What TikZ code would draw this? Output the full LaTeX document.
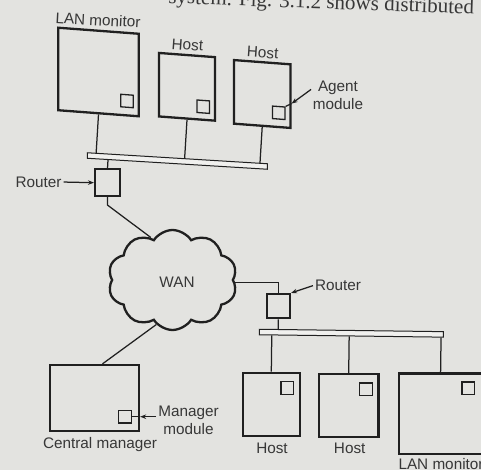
\documentclass[tikz,border=0pt]{standalone}
\usepackage{fontspec}
\setmainfont{Liberation Sans}
\newfontfamily\bookfont{Liberation Serif}
\usetikzlibrary{shapes.symbols,calc,arrows.meta}
\definecolor{bg}{RGB}{227,227,224}
\definecolor{ink}{RGB}{32,32,32}
\definecolor{txt}{RGB}{55,55,55}
\definecolor{busfill}{RGB}{240,240,238}
\begin{document}
\begin{tikzpicture}[x=1pt,y=-1pt,
  box/.style={draw=ink,line width=2.3pt,rectangle,inner sep=0pt},
  sq/.style={draw=ink,line width=1.3pt,rectangle,inner sep=0pt,minimum size=12.5pt},
  rtr/.style={draw=ink,line width=2pt,rectangle,inner sep=0pt},
  busbar/.style={draw=ink,fill=busfill,line width=1pt,rectangle,inner sep=0pt},
  skew/.style={yslant=-0.075,transform shape},
  link/.style={draw=ink,line width=1.25pt},
  ptr/.style={link,-{Stealth[length=6pt,width=4.5pt]},shorten <=2pt},
  lbl/.style={text=txt,font=\fontsize{15.3}{18}\selectfont,inner sep=0pt,align=center}]
\useasboundingbox (0,0) rectangle (481,470);
\fill[bg] (0,0) rectangle (481,470);

% top caption fragment from the page
\node[font=\bookfont\fontsize{21}{24}\selectfont,text=txt,anchor=base east,rotate=-2,inner sep=0pt] (cap) at (474,14) {system. Fig. 3.1.2 shows distributed};

% ---- upper LAN ----
\node[box,skew,minimum width=80.5pt,minimum height=82.5pt] (lm1) at (98.5,72) {};
\node[sq,skew] (lm1s) at (127,101) {};
\node[box,skew,minimum width=56pt,minimum height=63.5pt] (h1) at (187,86.8) {};
\node[sq,skew] (h1s) at (203.3,106.7) {};
\node[box,skew,minimum width=56.5pt,minimum height=63.6pt] (h2) at (262.2,94) {};
\node[sq,skew] (h2s) at (278.7,112.8) {};

\node[lbl,rotate=-3] (lm1l) at (98,20) {LAN monitor};
\node[lbl,rotate=-4] (h1l) at (187.5,45) {Host};
\node[lbl,rotate=-4] (h2l) at (262.7,52.7) {Host};
\node[lbl] (aml) at (338,95) {Agent\\module};
\coordinate (agtip) at ($(h2.east)+(0,7.4)$);
\draw[ptr] (aml.165) -- (agtip);
\draw[link] (agtip) -- (h2s.north east);

\node[busbar,yslant=-0.061,transform shape,minimum width=180pt,minimum height=5.5pt] (bus1) at (177.3,161) {};
\draw[link] (lm1.south) -- ($(bus1.north west)!(lm1.south)!(bus1.north east)$);
\draw[link] (h1.south) -- ($(bus1.north west)!(h1.south)!(bus1.north east)$);
\draw[link] (h2.south) -- ($(bus1.north west)!(h2.south)!(bus1.north east)$);

\node[rtr,minimum width=25pt,minimum height=26.7pt] (r1) at (107.5,182.7) {};
\draw[link] ($(bus1.south west)!(r1.north)!(bus1.south east)$) -- (r1.north);
\node[lbl] (r1l) at (38.5,182) {Router};
\draw[ptr] (r1l.east) -- (r1.west);

% ---- WAN ----
\node[cloud,draw=ink,line width=2.3pt,cloud puffs=10,cloud puff arc=115,aspect=1.3,
      minimum width=129pt,minimum height=100pt,inner sep=0pt] (wan) at (172.5,280) {};
\node[lbl] (wanl) at (177,282) {WAN};
\draw[link] (r1.south) -- ++(0,8) -- (wan.117);

% ---- lower LAN ----
\node[rtr,minimum width=23.5pt,minimum height=24.5pt] (r2) at (278.3,306.2) {};
\draw[link] (wan.-2) -| (r2.north);
\node[lbl] (r2l) at (338,285) {Router};
\draw[ptr] (r2l.west) -- (r2.north east);

\node[busbar,yslant=-0.013,transform shape,minimum width=184pt,minimum height=5.5pt] (bus2) at (351.3,333.2) {};
\draw[link] (r2.south) -- ($(bus2.north west)!(r2.south)!(bus2.north east)$);

\node[box,minimum width=57.3pt,minimum height=63.3pt] (ha) at (271.3,404.4) {};
\node[sq] (has) at (287.2,388) {};
\node[box,minimum width=59.3pt,minimum height=62.7pt] (hb) at (348.7,405.4) {};
\node[sq] (hbs) at (366,389.2) {};
\node[box,minimum width=82.7pt,minimum height=80.7pt] (lm2) at (440.6,413.7) {};
\node[sq] (lm2s) at (468.3,388.3) {};
\draw[link] ($(bus2.south west)!(ha.north)!(bus2.south east)$) -- (ha.north);
\draw[link] ($(bus2.south west)!(hb.north)!(bus2.south east)$) -- (hb.north);
\draw[link] ($(bus2.south west)!(lm2.north)!(bus2.south east)$) -- (lm2.north);
\node[lbl] (hal) at (272,448.3) {Host};
\node[lbl] (hbl) at (349.7,448) {Host};
\node[lbl,anchor=west] (lm2l) at (398.3,464) {LAN monitor};

% ---- central manager ----
\node[box,minimum width=89pt,minimum height=66pt] (cm) at (94.5,398) {};
\node[sq] (cms) at (125,416.7) {};
\node[lbl] (cml) at (100,445) {Central manager};
\node[lbl] (mml) at (188.5,420.5) {Manager\\module};
\coordinate (cme) at (cm.east |- cms.east);
\draw[ptr] (mml.west |- cms.east) -- (cme);
\draw[link] (cme) -- (cms.east);
\draw[link] (wan.250) -- ([xshift=8pt]cm.north);
\end{tikzpicture}
\end{document}
